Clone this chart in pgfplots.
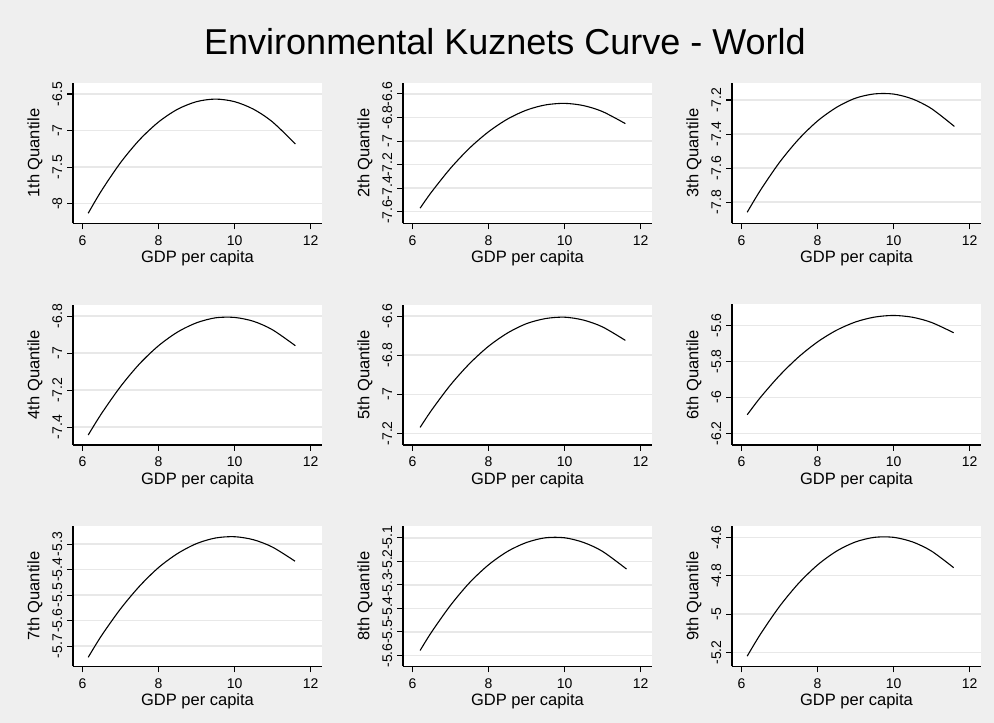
\documentclass[border=0pt]{standalone}
\usepackage{fontspec}
\setmainfont{Liberation Sans}
\usepackage{pgfplots}
\pgfplotsset{compat=1.18}
\definecolor{bg}{RGB}{239,239,239}
\definecolor{gridc}{RGB}{232,232,232}
\pgfplotsset{
 kz/.style={
  scale only axis, width=249pt, height=140.5pt,
  xmin=5.75, xmax=12.3,
  axis lines*=left,
  axis line style={line width=1.1pt, black},
  axis background/.style={fill=white},
  tick align=outside, major tick length=6pt,
  tick style={line width=1.1pt, black},
  xtick={6,8,10,12},
  ymajorgrids, grid style={gridc, line width=1.5pt},
  /pgf/number format/assume math mode=true,
  tick label style={font=\fontsize{14}{14}\selectfont, inner sep=0pt},
  label style={font=\fontsize{16.5}{16.5}\selectfont, inner sep=0pt},
  xlabel={GDP per capita},
  xlabel style={at={(axis description cs:0.5,-0.281)}, anchor=base},
  ylabel style={at={(axis description cs:-0.153,0.5)}, anchor=center},
  xticklabel style={anchor=base, yshift=-16pt},
  yticklabel style={xshift=-5pt, rotate=90, anchor=base},
  cycle list={{black, mark=none}},
  every axis plot post/.append style={line width=1.1pt, smooth},
 }
}
\begin{document}
\begin{tikzpicture}[x=1pt,y=1pt]
\fill[bg] (0,0) rectangle (994,723);
\useasboundingbox (0,0) rectangle (994,723);
\node[font=\fontsize{36}{36}\selectfont, anchor=base] at (505,668) {Environmental Kuznets Curve - World};

% Row 1
\begin{axis}[kz, at={(73pt,499.5pt)}, anchor=south west, ymin=-8.27, ymax=-6.35, ytick={-8,-7.5,-7,-6.5}, ylabel={1th Quantile}]
\addplot coordinates {(6.15,-8.130) (6.5,-7.821) (7,-7.439) (7.5,-7.126) (8,-6.883) (8.5,-6.709) (9,-6.605) (9.5,-6.570) (10,-6.605) (10.5,-6.709) (11,-6.883) (11.6,-7.183)};
\end{axis}
\begin{axis}[kz, at={(403pt,499.5pt)}, anchor=south west, ymin=-7.70, ymax=-6.507, ytick={-7.6,-7.4,-7.2,-7,-6.8,-6.6}, ylabel={2th Quantile}]
\addplot coordinates {(6.2,-7.570) (6.5,-7.433) (7,-7.231) (7.5,-7.060) (8,-6.921) (8.5,-6.813) (9,-6.737) (9.5,-6.693) (10,-6.680) (10.5,-6.699) (11,-6.750) (11.6,-6.852)};
\end{axis}
\begin{axis}[kz, at={(732pt,499.5pt)}, anchor=south west, ymin=-7.925, ymax=-7.1, ytick={-7.8,-7.6,-7.4,-7.2}, ylabel={3th Quantile}]
\addplot coordinates {(6.15,-7.859) (6.5,-7.729) (7,-7.566) (7.5,-7.431) (8,-7.323) (8.5,-7.243) (9,-7.189) (9.5,-7.164) (10,-7.165) (10.5,-7.194) (11,-7.251) (11.6,-7.355)};
\end{axis}

% Row 2
\begin{axis}[kz, at={(73pt,278pt)}, anchor=south west, ymin=-7.497, ymax=-6.737, ytick={-7.4,-7.2,-7,-6.8}, ylabel={4th Quantile}]
\addplot coordinates {(6.15,-7.443) (6.5,-7.327) (7,-7.181) (7.5,-7.058) (8,-6.960) (8.5,-6.886) (9,-6.836) (9.5,-6.809) (10,-6.807) (10.5,-6.828) (11,-6.874) (11.6,-6.960)};
\end{axis}
\begin{axis}[kz, at={(403pt,278pt)}, anchor=south west, ymin=-7.26, ymax=-6.54, ytick={-7.2,-7,-6.8,-6.6}, ylabel={5th Quantile}]
\addplot coordinates {(6.2,-7.170) (6.5,-7.082) (7,-6.952) (7.5,-6.843) (8,-6.754) (8.5,-6.686) (9,-6.638) (9.5,-6.612) (10,-6.605) (10.5,-6.620) (11,-6.655) (11.6,-6.724)};
\end{axis}
\begin{axis}[kz, at={(732pt,278pt)}, anchor=south west, ymin=-6.265, ymax=-5.484, ytick={-6.2,-6,-5.8,-5.6}, ylabel={6th Quantile}]
\addplot coordinates {(6.15,-6.097) (6.5,-6.000) (7,-5.879) (7.5,-5.776) (8,-5.692) (8.5,-5.627) (9,-5.581) (9.5,-5.554) (10,-5.545) (10.5,-5.555) (11,-5.584) (11.58,-5.641)};
\end{axis}

% Row 3
\begin{axis}[kz, at={(73pt,56.5pt)}, anchor=south west, ymin=-5.78, ymax=-5.229, ytick={-5.7,-5.6,-5.5,-5.4,-5.3}, ylabel={7th Quantile}]
\addplot coordinates {(6.15,-5.744) (6.5,-5.659) (7,-5.554) (7.5,-5.465) (8,-5.392) (8.5,-5.337) (9,-5.298) (9.5,-5.276) (10,-5.271) (10.5,-5.283) (11,-5.312) (11.59,-5.367)};
\end{axis}
\begin{axis}[kz, at={(403pt,56.5pt)}, anchor=south west, ymin=-5.647, ymax=-5.05, ytick={-5.6,-5.5,-5.4,-5.3,-5.2,-5.1}, ylabel={8th Quantile}]
\addplot coordinates {(6.2,-5.579) (6.5,-5.501) (7,-5.387) (7.5,-5.291) (8,-5.215) (8.5,-5.158) (9,-5.120) (9.5,-5.100) (10,-5.100) (10.5,-5.120) (11,-5.158) (11.63,-5.233)};
\end{axis}
\begin{axis}[kz, at={(732pt,56.5pt)}, anchor=south west, ymin=-5.273, ymax=-4.541, ytick={-5.2,-5,-4.8,-4.6}, ylabel={9th Quantile}]
\addplot coordinates {(6.15,-5.219) (6.5,-5.104) (7,-4.960) (7.5,-4.840) (8,-4.744) (8.5,-4.672) (9,-4.624) (9.5,-4.600) (10,-4.600) (10.5,-4.624) (11,-4.672) (11.58,-4.758)};
\end{axis}
\end{tikzpicture}
\end{document}
